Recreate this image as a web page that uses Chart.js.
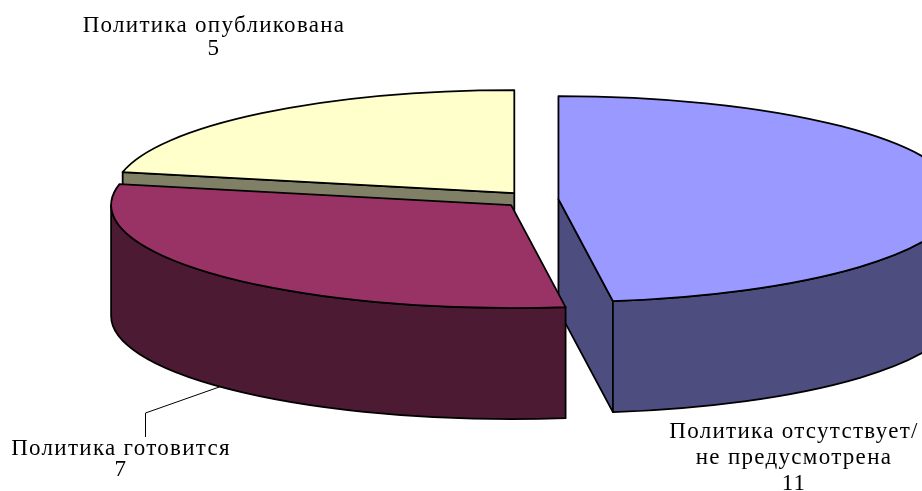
<!DOCTYPE html>
<html>
<head>
<meta charset="utf-8">
<title>Политика</title>
<script src="https://cdn.jsdelivr.net/npm/chart.js@4"></script>
<style>
    html, body { margin: 0; padding: 0; background: #fff; overflow: hidden; }
    #wrap { width: 922px; height: 491px; }
</style>
</head>
<body>
<div id="wrap"><canvas id="pie"></canvas></div>
<script>
// Данные
const categories = [
    ['Политика отсутствует/', 'не предусмотрена'],
    ['Политика готовится'],
    ['Политика опубликована']
];
const values = [11, 7, 5];

// Оформление
const topColors = ['#9999ff', '#993366', '#ffffcc'];
const sideColors = ['#4d4d80', '#4d1a33', '#808066'];
const explode = [24, 32, 32];
const squash = 0.2575;
const depth = 111;
const drawOrder = [2, 0, 1];
const labelAnchors = [
    { x: 794, y: 438, line: 26 },
    { x: 121, y: 455, line: 21 },
    { x: 214, y: 32, line: 23 }
];

function sliceCentre(arc) {
    const mid = (arc.startAngle + arc.endAngle) / 2;
    const off = arc.options.offset;
    return { x: arc.x + Math.cos(mid) * off, y: arc.y + Math.sin(mid) * off * squash };
}

function drawSlice(ctx, arc, i) {
    const c = sliceCentre(arc);
    const rx = arc.outerRadius;
    const ry = rx * squash;
    const start = arc.startAngle;
    const end = arc.endAngle;

    ctx.fillStyle = sideColors[i];

    // боковые грани по радиусам, только те что смотрят на зрителя
    [[start, start - Math.PI / 2], [end, end + Math.PI / 2]].forEach(([a, normal]) => {
        if (Math.sin(normal) > 1e-6) {
            const ex = c.x + Math.cos(a) * rx;
            const ey = c.y + Math.sin(a) * ry;
            ctx.beginPath();
            ctx.moveTo(c.x, c.y);
            ctx.lineTo(ex, ey);
            ctx.lineTo(ex, ey + depth);
            ctx.lineTo(c.x, c.y + depth);
            ctx.closePath();
            ctx.fill();
            ctx.stroke();
        }
    });

    // внешняя стенка, передняя половина эллипса
    const a0 = Math.max(start, 0);
    const a1 = Math.min(end, Math.PI);
    if (a0 < a1) {
        ctx.beginPath();
        ctx.ellipse(c.x, c.y, rx, ry, 0, a0, a1);
        ctx.ellipse(c.x, c.y + depth, rx, ry, 0, a1, a0, true);
        ctx.closePath();
        ctx.fill();
        ctx.stroke();
    }

    // верх
    ctx.fillStyle = topColors[i];
    ctx.beginPath();
    ctx.moveTo(c.x, c.y);
    ctx.ellipse(c.x, c.y, rx, ry, 0, start, end);
    ctx.closePath();
    ctx.fill();
    ctx.stroke();
}

const pie3d = {
    id: 'pie3d',
    beforeDatasetsDraw(chart) {
        const ctx = chart.ctx;
        const arcs = chart.getDatasetMeta(0).data;
        ctx.save();
        ctx.strokeStyle = '#000';
        ctx.lineWidth = 1.8;
        ctx.lineJoin = 'round';
        drawOrder.forEach(i => drawSlice(ctx, arcs[i], i));
        ctx.restore();
        return false; // обычный плоский круг не рисуем
    },
    afterDraw(chart) {
        const ctx = chart.ctx;
        const arcs = chart.getDatasetMeta(0).data;

        // выноска к "Политика готовится"
        const c = sliceCentre(arcs[1]);
        const a = 2.386;
        ctx.save();
        ctx.strokeStyle = '#000';
        ctx.lineWidth = 1;
        ctx.beginPath();
        ctx.moveTo(c.x + Math.cos(a) * arcs[1].outerRadius, c.y + Math.sin(a) * arcs[1].outerRadius * squash + depth);
        ctx.lineTo(145.5, 413);
        ctx.lineTo(145.5, 437);
        ctx.stroke();

        // подписи
        ctx.fillStyle = '#000';
        ctx.font = '23px "Liberation Serif"';
        ctx.letterSpacing = '1.3px';
        ctx.textAlign = 'center';
        ctx.textBaseline = 'alphabetic';
        categories.forEach((lines, i) => {
            const rows = lines.concat(String(values[i]));
            const pos = labelAnchors[i];
            rows.forEach((t, r) => ctx.fillText(t, pos.x, pos.y + r * pos.line));
        });
        ctx.restore();
    }
};

new Chart(document.getElementById('pie'), {
    type: 'pie',
    data: {
        labels: categories,
        datasets: [{
            data: values,
            backgroundColor: topColors,
            offset: explode,
            borderWidth: 0
        }]
    },
    options: {
        responsive: true,
        maintainAspectRatio: false,
        animation: false,
        radius: 400,
        layout: { padding: { left: 147, bottom: 92 } },
        plugins: {
            legend: { display: false },
            tooltip: { enabled: false }
        }
    },
    plugins: [pie3d]
});
</script>
</body>
</html>
